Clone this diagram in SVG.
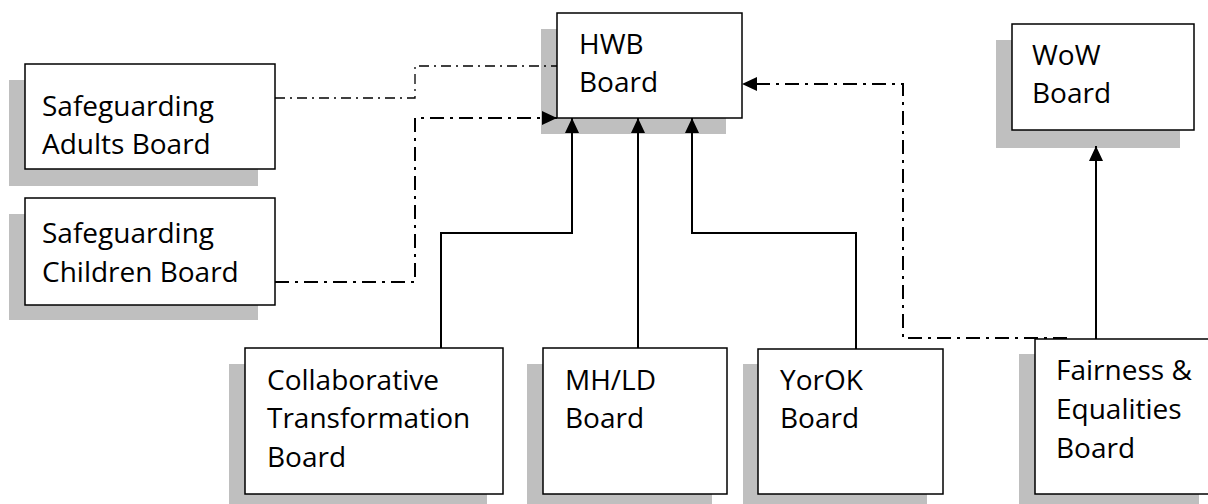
<svg xmlns="http://www.w3.org/2000/svg" width="1208" height="504" viewBox="0 0 1208 504">
<style>
.sh{fill:#bfbfbf;stroke:none}
.bx{fill:#fff;stroke:#000;stroke-width:1.5}
.t{font-family:"Open Sans","Noto Sans",sans-serif;font-size:28px;fill:#000}
.s{fill:none;stroke:#000;stroke-width:2}
.d1{fill:none;stroke:#000;stroke-width:1.3;stroke-dasharray:10 5 2 5}
.d2{fill:none;stroke:#000;stroke-width:2;stroke-dasharray:14 6 3 6}
</style>
<defs>
<marker id="ah" markerUnits="userSpaceOnUse" markerWidth="15" markerHeight="14" refX="15" refY="7" orient="auto" viewBox="0 0 15 14">
<path d="M0,0 L15,7 L0,14 z" fill="#000"/>
</marker>
</defs>
<rect width="1208" height="504" fill="#fff"/>
<g id="hwb">
<rect class="sh" x="541" y="29" width="185" height="105"/>
<rect class="bx" x="557" y="13" width="185" height="105"/>
<text class="t" x="579" y="54">HWB</text>
<text class="t" x="579" y="92">Board</text>
</g>
<g id="safeguarding-adults">
<rect class="sh" x="9" y="80" width="249" height="106"/>
<rect class="bx" x="25" y="64" width="250" height="105"/>
<text class="t" x="42" y="116">Safeguarding</text>
<text class="t" x="42" y="154">Adults Board</text>
</g>
<g id="safeguarding-children">
<rect class="sh" x="9" y="214" width="249" height="106"/>
<rect class="bx" x="25" y="198" width="250" height="107"/>
<text class="t" x="42" y="243">Safeguarding</text>
<text class="t" x="42" y="282">Children Board</text>
</g>
<g id="wow">
<rect class="sh" x="996" y="40" width="184" height="108"/>
<rect class="bx" x="1012" y="24" width="182" height="106"/>
<text class="t" x="1032" y="65">WoW</text>
<text class="t" x="1032" y="103">Board</text>
</g>
<g id="collaborative">
<rect class="sh" x="229" y="364" width="258" height="140"/>
<rect class="bx" x="245" y="348" width="258" height="146"/>
<text class="t" x="267" y="390">Collaborative</text>
<text class="t" x="267" y="428">Transformation</text>
<text class="t" x="267" y="467">Board</text>
</g>
<g id="mhld">
<rect class="sh" x="527" y="364" width="185" height="140"/>
<rect class="bx" x="543" y="348" width="184" height="146"/>
<text class="t" x="565" y="390">MH/LD</text>
<text class="t" x="565" y="428">Board</text>
</g>
<g id="yorok">
<rect class="sh" x="743" y="364" width="184" height="140"/>
<rect class="bx" x="758" y="349" width="185" height="145"/>
<text class="t" x="780" y="390">YorOK</text>
<text class="t" x="780" y="428">Board</text>
</g>
<g id="fairness">
<rect class="sh" x="1019" y="354" width="180" height="150"/>
<rect class="bx" x="1035" y="339" width="180" height="155"/>
<text class="t" x="1056" y="380">Fairness &amp;</text>
<text class="t" x="1056" y="419">Equalities</text>
<text class="t" x="1056" y="458">Board</text>
</g>
<g id="connectors">
<path class="d1" d="M275,98 H415 V66 H557"/>
<path class="d2" d="M275,282 H415 V118 H557" marker-end="url(#ah)"/>
<path class="s" d="M441,348 V233 H572 V118" marker-end="url(#ah)"/>
<path class="s" d="M638,348 V118" marker-end="url(#ah)"/>
<path class="s" d="M856,349 V233 H692 V118" marker-end="url(#ah)"/>
<path class="d2" d="M1067,338 H903 V84 H742" marker-end="url(#ah)"/>
<path class="s" d="M1096,339 V146" marker-end="url(#ah)"/>
</g>
</svg>
